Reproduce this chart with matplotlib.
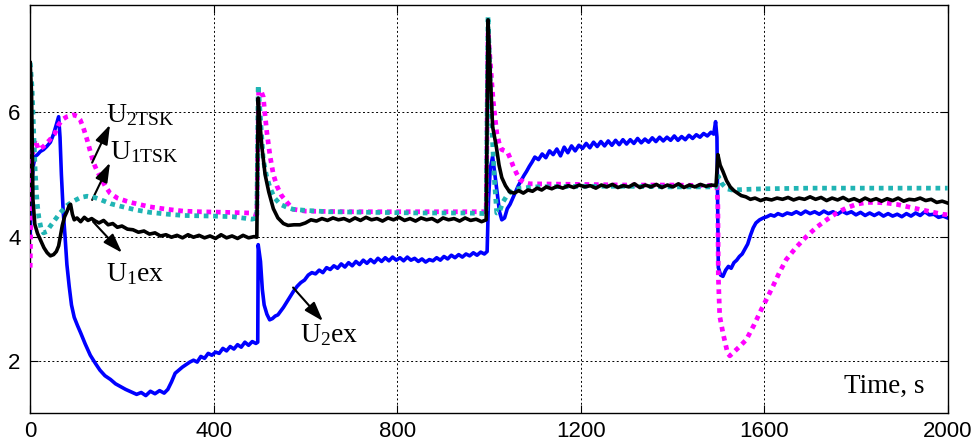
import matplotlib.pyplot as plt

plt.switch_backend('Agg')
plt.rcParams['font.family'] = ['Liberation Sans', 'DejaVu Sans']
plt.rcParams['mathtext.fontset'] = 'custom'
plt.rcParams['mathtext.rm'] = 'Liberation Serif'
plt.rcParams['mathtext.it'] = 'Liberation Serif:italic'

# U1ex (black, solid)
t_u1ex = [0, 3, 6, 10, 16, 22, 30, 37, 44, 51, 57, 62, 66, 70, 75, 80, 85, 88, 92, 96,
          102, 110, 118, 126, 134, 142, 150, 160, 170, 180, 190, 200, 212, 224, 236, 248,
          260, 272, 284, 296, 308, 320, 332, 344, 356, 368, 380, 392, 404, 416, 428, 440,
          452, 464, 476, 488, 494, 497, 500, 505, 512, 520, 530, 540, 552, 562, 575, 588,
          600, 612, 624, 636, 648, 660, 672, 684, 696, 708, 720, 732, 744, 756, 768, 780,
          792, 804, 816, 828, 840, 852, 864, 876, 888, 900, 912, 924, 936, 948, 960, 972,
          984, 994, 998, 1003, 1008, 1016, 1022, 1028, 1036, 1045, 1055, 1065, 1075, 1085,
          1095, 1105, 1115, 1125, 1137, 1149, 1161, 1173, 1185, 1197, 1209, 1221, 1233,
          1245, 1257, 1269, 1281, 1293, 1305, 1317, 1329, 1341, 1353, 1365, 1377, 1389,
          1401, 1413, 1425, 1437, 1449, 1461, 1473, 1485, 1495, 1499, 1504, 1510, 1518,
          1526, 1534, 1542, 1550, 1560, 1570, 1580, 1592, 1604, 1616, 1628, 1640, 1652,
          1664, 1676, 1688, 1700, 1712, 1724, 1736, 1748, 1760, 1772, 1784, 1796, 1808,
          1820, 1832, 1844, 1856, 1868, 1880, 1892, 1904, 1916, 1928, 1940, 1952, 1964,
          1976, 1988, 2000]
u1ex = [6.8, 6.3, 4.6, 4.2, 4.05, 3.95, 3.82, 3.74, 3.69, 3.71, 3.76, 3.85, 4.02, 4.18, 4.32,
        4.40, 4.50, 4.52, 4.36, 4.27, 4.30, 4.24, 4.31, 4.26, 4.29, 4.25, 4.22, 4.26, 4.19,
        4.21, 4.15, 4.17, 4.12, 4.11, 4.07, 4.09, 4.04, 4.06, 4.01, 4.03, 3.99, 4.02, 3.98,
        4.03, 3.99, 4.02, 3.98, 4.01, 3.97, 4.03, 3.98, 4.01, 3.97, 4.02, 3.98, 4.00, 3.99,
        6.23, 5.9, 5.45, 5.0, 4.72, 4.45, 4.30, 4.21, 4.18, 4.19, 4.19, 4.22, 4.27, 4.25,
        4.29, 4.26, 4.30, 4.27, 4.29, 4.25, 4.30, 4.26, 4.31, 4.27, 4.29, 4.25, 4.30, 4.27,
        4.31, 4.26, 4.29, 4.25, 4.30, 4.27, 4.29, 4.24, 4.30, 4.27, 4.29, 4.25, 4.30, 4.26,
        4.28, 4.24, 4.27, 7.49, 6.6, 5.77, 5.45, 5.15, 4.95, 4.82, 4.72, 4.70, 4.74, 4.70,
        4.75, 4.73, 4.78, 4.75, 4.80, 4.77, 4.81, 4.78, 4.82, 4.79, 4.83, 4.80, 4.82, 4.78,
        4.83, 4.80, 4.84, 4.79, 4.82, 4.80, 4.85, 4.79, 4.83, 4.80, 4.84, 4.79, 4.83, 4.80,
        4.85, 4.79, 4.83, 4.80, 4.84, 4.81, 4.83, 4.82, 5.32, 5.15, 5.05, 4.90, 4.80, 4.74,
        4.70, 4.66, 4.64, 4.60, 4.62, 4.58, 4.61, 4.59, 4.62, 4.60, 4.63, 4.59, 4.62, 4.60,
        4.64, 4.60, 4.63, 4.58, 4.62, 4.59, 4.63, 4.58, 4.61, 4.57, 4.62, 4.58, 4.61, 4.57,
        4.61, 4.58, 4.62, 4.57, 4.60, 4.59, 4.62, 4.58, 4.60, 4.55, 4.57, 4.54]

# U2ex (blue, solid)
t_u2ex = [0, 3, 7, 11, 16, 22, 29, 36, 44, 51, 57, 62, 65, 68, 72, 76, 80, 85, 90, 96, 103,
          110, 120, 131, 142, 152, 163, 175, 186, 196, 208, 220, 232, 242, 252, 262, 272,
          282, 292, 300, 308, 316, 324, 332, 340, 348, 356, 364, 372, 380, 388, 396, 404,
          412, 420, 428, 436, 444, 452, 460, 468, 476, 484, 492, 496, 497, 502, 506, 510,
          516, 522, 528, 534, 540, 546, 552, 558, 566, 574, 582, 590, 598, 606, 614, 622,
          630, 638, 646, 654, 662, 670, 678, 686, 694, 702, 710, 718, 726, 734, 742, 750,
          758, 766, 774, 782, 790, 798, 806, 814, 822, 830, 838, 846, 854, 862, 870, 878,
          886, 894, 902, 910, 918, 926, 934, 942, 950, 958, 966, 974, 982, 990, 996, 999,
          1003, 1008, 1013, 1018, 1023, 1028, 1034, 1040, 1046, 1052, 1058, 1064, 1070,
          1076, 1082, 1088, 1094, 1100, 1108, 1116, 1124, 1132, 1140, 1148, 1156, 1164,
          1172, 1180, 1188, 1196, 1204, 1212, 1220, 1228, 1236, 1244, 1252, 1260, 1268,
          1276, 1284, 1292, 1300, 1308, 1316, 1324, 1332, 1340, 1348, 1356, 1364, 1372,
          1380, 1388, 1396, 1404, 1412, 1420, 1428, 1436, 1444, 1452, 1460, 1468, 1476,
          1484, 1490, 1494, 1497, 1500, 1505, 1510, 1516, 1522, 1528, 1534, 1540, 1546,
          1552, 1558, 1564, 1570, 1576, 1582, 1590, 1598, 1606, 1614, 1622, 1630, 1640,
          1650, 1660, 1670, 1680, 1690, 1700, 1710, 1720, 1730, 1740, 1750, 1760, 1770,
          1780, 1790, 1800, 1810, 1820, 1830, 1840, 1850, 1860, 1870, 1880, 1890, 1900,
          1910, 1920, 1930, 1940, 1950, 1960, 1970, 1980, 1990, 2000]
u2ex = [4.00, 4.80, 5.15, 5.29, 5.32, 5.37, 5.40, 5.45, 5.52, 5.65, 5.80, 5.93, 5.60, 5.00,
        4.40, 4.00, 3.55, 3.20, 2.90, 2.70, 2.57, 2.45, 2.27, 2.09, 1.96, 1.85, 1.76, 1.70,
        1.63, 1.59, 1.54, 1.50, 1.46, 1.49, 1.44, 1.51, 1.47, 1.52, 1.48, 1.54, 1.66, 1.80,
        1.85, 1.90, 1.94, 1.98, 2.01, 1.98, 2.07, 2.04, 2.12, 2.09, 2.14, 2.12, 2.20, 2.16,
        2.23, 2.19, 2.26, 2.22, 2.30, 2.25, 2.31, 2.28, 2.30, 3.87, 3.60, 3.15, 2.90, 2.75,
        2.66, 2.68, 2.72, 2.74, 2.80, 2.86, 2.93, 3.02, 3.12, 3.20, 3.26, 3.30, 3.38, 3.42,
        3.40, 3.46, 3.42, 3.50, 3.47, 3.53, 3.49, 3.56, 3.51, 3.58, 3.53, 3.60, 3.55, 3.62,
        3.57, 3.63, 3.58, 3.65, 3.60, 3.66, 3.61, 3.67, 3.62, 3.66, 3.61, 3.67, 3.62, 3.65,
        3.60, 3.64, 3.59, 3.63, 3.61, 3.66, 3.62, 3.68, 3.64, 3.70, 3.66, 3.71, 3.67, 3.72,
        3.69, 3.74, 3.70, 3.75, 3.72, 3.76, 4.60, 5.10, 5.29, 5.00, 4.70, 4.40, 4.27, 4.30,
        4.45, 4.52, 4.62, 4.72, 4.82, 4.90, 4.98, 5.05, 5.13, 5.20, 5.28, 5.24, 5.33, 5.27,
        5.38, 5.32, 5.41, 5.30, 5.44, 5.35, 5.46, 5.38, 5.47, 5.42, 5.50, 5.43, 5.52, 5.45,
        5.53, 5.46, 5.54, 5.47, 5.55, 5.48, 5.56, 5.49, 5.56, 5.50, 5.58, 5.51, 5.57, 5.52,
        5.59, 5.53, 5.60, 5.54, 5.60, 5.55, 5.62, 5.55, 5.61, 5.56, 5.63, 5.58, 5.64, 5.60,
        5.66, 5.62, 5.68, 5.65, 5.85, 5.60, 3.50, 3.38, 3.36, 3.46, 3.52, 3.49, 3.58, 3.62,
        3.68, 3.72, 3.80, 3.88, 4.02, 4.14, 4.22, 4.27, 4.30, 4.32, 4.35, 4.33, 4.37, 4.34,
        4.38, 4.36, 4.40, 4.36, 4.41, 4.37, 4.40, 4.36, 4.41, 4.37, 4.40, 4.36, 4.41, 4.37,
        4.40, 4.35, 4.39, 4.34, 4.38, 4.34, 4.38, 4.33, 4.37, 4.33, 4.36, 4.32, 4.37, 4.33,
        4.38, 4.34, 4.40, 4.35, 4.36, 4.31, 4.33, 4.30]

# U1TSK (cyan, dotted)
t_u1tsk = [0, 4, 8, 11, 15, 19, 24, 29, 36, 43, 54, 65, 80, 94, 110, 124, 140, 155, 175, 196,
           230, 261, 300, 334, 400, 442, 483, 494, 497, 502, 508, 515, 523, 533, 545, 560,
           573, 603, 650, 750, 850, 950, 994, 998, 1003, 1008, 1012, 1017, 1023, 1030, 1040,
           1052, 1070, 1100, 1200, 1300, 1400, 1495, 1500, 1508, 1518, 1530, 1560, 1600,
           1700, 1800, 1900, 2000]
u1tsk = [6.80, 6.40, 5.60, 5.03, 4.55, 4.30, 4.12, 4.06, 4.08, 4.16, 4.27, 4.38, 4.50, 4.57,
         4.63, 4.65, 4.63, 4.59, 4.53, 4.49, 4.43, 4.39, 4.36, 4.34, 4.33, 4.32, 4.28, 4.30,
         6.44, 5.90, 5.24, 4.98, 4.78, 4.62, 4.52, 4.47, 4.44, 4.42, 4.40, 4.39, 4.38, 4.38,
         4.37, 7.55, 6.40, 5.50, 4.90, 4.38, 4.40, 4.55, 4.67, 4.75, 4.78, 4.80, 4.81, 4.81,
         4.80, 4.80, 4.97, 4.85, 4.77, 4.75, 4.76, 4.77, 4.78, 4.78, 4.78, 4.78]

# U2TSK (magenta, dotted)
t_u2tsk = [0, 3, 7, 11, 18, 29, 43, 53, 62, 71, 80, 94, 102, 109, 116, 124, 131, 138, 145,
           152, 163, 174, 190, 210, 225, 260, 298, 334, 370, 430, 479, 494, 498, 503, 508,
           512, 516, 523, 530, 538, 548, 560, 573, 600, 700, 800, 900, 994, 998, 1003, 1009,
           1017, 1023, 1028, 1035, 1041, 1047, 1053, 1060, 1067, 1078, 1089, 1200, 1300,
           1400, 1497, 1499, 1500, 1503, 1510, 1520, 1525, 1545, 1561, 1578, 1594, 1607,
           1619, 1633, 1648, 1670, 1692, 1714, 1736, 1758, 1779, 1801, 1823, 1845, 1867,
           1888, 1913, 1938, 1963, 1989, 2000]
u2tsk = [3.50, 5.13, 5.45, 5.56, 5.40, 5.45, 5.56, 5.65, 5.80, 5.89, 5.93, 5.96, 5.94, 5.88,
         5.75, 5.56, 5.37, 5.19, 5.07, 4.97, 4.82, 4.70, 4.62, 4.57, 4.54, 4.48, 4.44, 4.41,
         4.40, 4.39, 4.38, 4.35, 6.35, 6.35, 6.25, 5.95, 5.67, 5.29, 5.00, 4.81, 4.66, 4.55,
         4.44, 4.41, 4.40, 4.40, 4.40, 4.40, 7.30, 6.80, 6.20, 5.67, 5.48, 5.40, 5.38, 5.35,
         5.25, 5.13, 5.02, 4.92, 4.87, 4.85, 4.84, 4.83, 4.83, 4.82, 4.50, 3.36, 2.72, 2.45,
         2.13, 2.08, 2.22, 2.34, 2.58, 2.83, 3.02, 3.20, 3.42, 3.63, 3.83, 4.00, 4.15, 4.27,
         4.38, 4.46, 4.52, 4.55, 4.55, 4.54, 4.52, 4.48, 4.44, 4.40, 4.36, 4.35]

x_ticks = [0, 400, 800, 1200, 1600, 2000]
y_ticks = [2, 4, 6]

fig = plt.figure(figsize=(9.74, 4.46), dpi=100)
ax = fig.add_axes([0.031, 0.074, 0.942, 0.915])

ax.plot(t_u2ex, u2ex, color='#0000ff', lw=2.6, zorder=2)
ax.plot(t_u2tsk, u2tsk, color='#ff00ff', lw=3.4, linestyle=(0, (1, 1)), zorder=3)
ax.plot(t_u1tsk, u1tsk, color='#20b4b4', lw=3.4, linestyle=(0, (1, 1)), zorder=4)
ax.plot(t_u1ex, u1ex, color='black', lw=2.6, zorder=5)

ax.set_xlim(0, 2000)
ax.set_ylim(1.16, 7.73)
ax.set_xticks(x_ticks)
ax.set_yticks(y_ticks)
ax.tick_params(direction='in', length=6, width=0.8, top=True, right=True, labelsize=16)
ax.tick_params(axis='x', pad=6)
ax.tick_params(axis='y', pad=7)
ax.grid(True, color='black', linestyle=(0, (2, 2.5)), lw=0.7)
for sp in ax.spines.values():
    sp.set_linewidth(1.0)

serif = ['Liberation Serif', 'DejaVu Serif']
ax.text(1862, 1.49, 'Time, s', family=serif, fontsize=19.5, ha='center', va='baseline')

# label arrows: (head, tail)
arrow = dict(arrowstyle='-|>,head_length=0.9,head_width=0.3', color='black', lw=1.5,
             shrinkA=0, shrinkB=0, mutation_scale=13)
ax.annotate('', xy=(174, 5.80), xytext=(135, 5.19), arrowprops=arrow)
ax.annotate('', xy=(174, 5.19), xytext=(135, 4.59), arrowprops=arrow)
ax.annotate('', xy=(200, 3.74), xytext=(137, 4.24), arrowprops=arrow)
ax.annotate('', xy=(638, 2.64), xytext=(573, 3.18), arrowprops=arrow)

ax.text(166, 5.85, r'U$_{\mathrm{2TSK}}$', family=serif, fontsize=20, va='baseline')
ax.text(174, 5.24, r'U$_{\mathrm{1TSK}}$', family=serif, fontsize=20, va='baseline')
ax.text(166, 3.28, r'U$_{\mathrm{1}}$ex', family=serif, fontsize=20, va='baseline')
ax.text(588, 2.30, r'U$_{\mathrm{2}}$ex', family=serif, fontsize=20, va='baseline')

fig.savefig('out.png', dpi=100)
